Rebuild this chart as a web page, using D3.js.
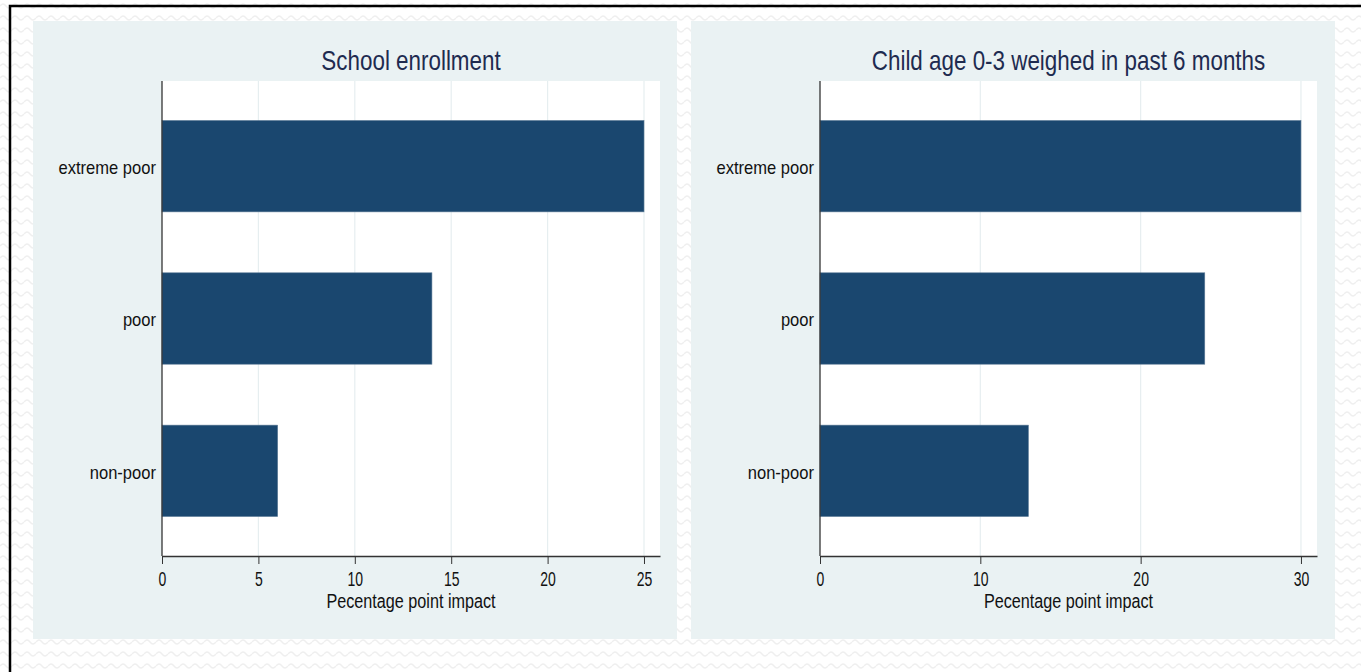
<!DOCTYPE html>
<html>
<head>
<meta charset="utf-8">
<script src="https://cdn.jsdelivr.net/npm/d3@7"></script>
<style>
  body { margin: 0; background: #fff; }
  svg text { font-family: "Liberation Sans", Arial, sans-serif; }
</style>
</head>
<body>
<div id="chart-container"></div>
<script>
// data
const categories = ["extreme poor", "poor", "non-poor"];
const enrollValues = [25, 14, 6];
const weighedValues = [30, 24, 13];
const enrollTicks = [0, 5, 10, 15, 20, 25];
const weighedTicks = [0, 10, 20, 30];
const titles = ["School enrollment", "Child age 0-3 weighed in past 6 months"];
const axisTitle = "Pecentage point impact";

const width = 1361;
const height = 672;
const barColor = "#1a476f";
const panelColor = "#eaf2f3";

const svg = d3.select("#chart-container")
    .append("svg")
    .attr("width", width)
    .attr("height", height);

// faint wavy background
const pat = svg.append("defs").append("pattern")
    .attr("id", "wave")
    .attr("width", 12)
    .attr("height", 12)
    .attr("patternUnits", "userSpaceOnUse");
pat.append("path")
    .attr("d", "M0,6 Q3,2 6,6 T12,6")
    .attr("fill", "none")
    .attr("stroke", "#efefef")
    .attr("stroke-width", 1.4);

svg.append("rect")
    .attr("width", width)
    .attr("height", height)
    .attr("fill", "url(#wave)");

// black frame (only top/left visible)
svg.append("rect")
    .attr("x", 10)
    .attr("y", 6)
    .attr("width", 1400)
    .attr("height", 700)
    .attr("fill", "none")
    .attr("stroke", "#000")
    .attr("stroke-width", 2.5);

function drawPanel(cfg) {
    const { px, plotLeft, plotRight, xMax, values, ticks, title } = cfg;
    const plotTop = 81, plotBottom = 556;

    svg.append("rect")
        .attr("x", px)
        .attr("y", 21)
        .attr("width", 644)
        .attr("height", 618)
        .attr("fill", panelColor);

    svg.append("rect")
        .attr("x", plotLeft)
        .attr("y", plotTop)
        .attr("width", plotRight - plotLeft)
        .attr("height", plotBottom - plotTop)
        .attr("fill", "#fff");

    const xScale = d3.scaleLinear()
        .domain([0, xMax])
        .range([plotLeft, plotRight]);

    const yScale = d3.scaleBand()
        .domain(categories)
        .range([90, 547])
        .paddingInner(0.4)
        .paddingOuter(0.2);

    // gridlines
    svg.append("g")
        .selectAll("line")
        .data(ticks.filter(t => t > 0))
        .enter()
        .append("line")
        .attr("x1", d => xScale(d))
        .attr("x2", d => xScale(d))
        .attr("y1", plotTop)
        .attr("y2", plotBottom)
        .attr("stroke", "#e6eef0")
        .attr("stroke-width", 1.2);

    // bars
    svg.append("g")
        .selectAll("rect")
        .data(categories)
        .enter()
        .append("rect")
        .attr("x", xScale(0))
        .attr("y", d => yScale(d))
        .attr("width", (d, i) => xScale(values[i]) - xScale(0))
        .attr("height", yScale.bandwidth())
        .attr("fill", barColor)
        .attr("stroke", "#5f7d98")
        .attr("stroke-width", 0.6);

    // x axis
    const xAxis = svg.append("g")
        .attr("transform", `translate(0, ${plotBottom})`)
        .call(d3.axisBottom(xScale).tickValues(ticks).tickSize(8).tickSizeOuter(0).tickPadding(8));
    xAxis.select(".domain").attr("stroke", "#333").attr("stroke-width", 1.3);
    xAxis.selectAll(".tick line").attr("stroke", "#333").attr("stroke-width", 1);
    xAxis.selectAll(".tick text")
        .attr("fill", "#111")
        .style("font-size", "20px")
        .attr("transform", "scale(0.7,1)");

    // y axis
    const yAxis = svg.append("g")
        .attr("transform", `translate(${plotLeft}, 0)`)
        .call(d3.axisLeft(yScale).tickSize(0).tickPadding(0));
    yAxis.select(".domain")
        .attr("d", `M0,${plotTop}V${plotBottom}`)
        .attr("stroke", "#333")
        .attr("stroke-width", 1.3);
    yAxis.selectAll(".tick text")
        .attr("x", 0)
        .attr("fill", "#111")
        .style("font-size", "18px")
        .attr("transform", "translate(-6,2) scale(0.92,1)");

    // axis title
    svg.append("text")
        .attr("transform", `translate(${(plotLeft + plotRight) / 2}, 608) scale(0.81,1)`)
        .attr("text-anchor", "middle")
        .attr("fill", "#111")
        .style("font-size", "20px")
        .text(axisTitle);

    // panel title
    svg.append("text")
        .attr("transform", `translate(${(plotLeft + plotRight) / 2}, 70) scale(0.83,1)`)
        .attr("text-anchor", "middle")
        .attr("fill", "#1e2b50")
        .style("font-size", "27px")
        .text(title);
}

drawPanel({ px: 33, plotLeft: 162, plotRight: 660, xMax: 25.83, values: enrollValues, ticks: enrollTicks, title: titles[0] });
drawPanel({ px: 691, plotLeft: 820, plotRight: 1317, xMax: 31.0, values: weighedValues, ticks: weighedTicks, title: titles[1] });
</script>
</body>
</html>
